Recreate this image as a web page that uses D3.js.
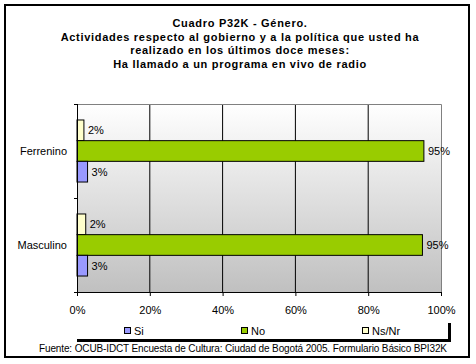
<!DOCTYPE html>
<html><head><meta charset="utf-8">
<script src="https://cdn.jsdelivr.net/npm/d3@7"></script>
<style>body{margin:0;background:#fff}svg{display:block;font-family:"Liberation Sans",Arial,sans-serif}</style>
</head><body><svg id="c" width="476" height="364"></svg>
<script>
const titleLines = ["Cuadro P32K - Género.","Actividades respecto al gobierno y a la política que usted ha","realizado en los últimos doce meses:","Ha llamado a un programa en vivo de radio"];
const categories = ["Ferrenino","Masculino"];
const seriesNames = ["Ns/Nr","No","Si"];
const legendOrder = ["Si","No","Ns/Nr"];
const siValues = [2.9, 2.9];
const noValues = [95.3, 94.9];
const nsValues = [1.9, 2.4];
const xTicks = [0,20,40,60,80,100];
const colors = {"Si":"#9999ff","No":"#99cc00","Ns/Nr":"#ffffcc"};
const source = "Fuente: OCUB-IDCT Encuesta de Cultura: Ciudad de Bogotá 2005. Formulario Básico BPI32K";

const valuesBy = {"Si":siValues,"No":noValues,"Ns/Nr":nsValues};
const svg = d3.select("#c");
const L=77,R=441,T=104,B=292;

// outer border
svg.append("rect").attr("x",5).attr("y",5).attr("width",464).attr("height",352)
  .attr("fill","#fff").attr("stroke","#000").attr("stroke-width",2);

// title
svg.append("g").selectAll("text").data(titleLines).join("text")
  .attr("x",240).attr("y",(d,i)=>27+i*13.7).attr("text-anchor","middle")
  .attr("font-size",11).attr("font-weight","bold").attr("letter-spacing",0.7).text(d=>d);

// gradient
const defs=svg.append("defs");
const gr=defs.append("linearGradient").attr("id","bg").attr("x1",0).attr("y1",0).attr("x2",0).attr("y2",1);
gr.append("stop").attr("offset","0%").attr("stop-color","#ffffff");
gr.append("stop").attr("offset","100%").attr("stop-color","#c0c0c0");

const x=d3.scaleLinear().domain([0,100]).range([L,R]);
const y0=d3.scaleBand().domain(categories).range([T,B]).paddingInner(0.34).paddingOuter(0.17);
const y1=d3.scaleBand().domain(seriesNames).range([0,y0.bandwidth()]);

svg.append("rect").attr("x",L).attr("y",T).attr("width",R-L).attr("height",B-T).attr("fill","url(#bg)");
// gridlines
svg.append("g").selectAll("line").data(xTicks.filter(t=>t>0&&t<100)).join("line")
  .attr("x1",d=>x(d)).attr("x2",d=>x(d)).attr("y1",T).attr("y2",B).attr("stroke","#000");
// plot border top/right gray
svg.append("path").attr("d",`M${L},${T+0.5}H${R+0.5}V${B}`).attr("fill","none").attr("stroke","#808080");

// bars
const g=svg.append("g");
categories.forEach((c,ci)=>{
  seriesNames.forEach(s=>{
    const v=valuesBy[s][ci];
    const yy=y0(c)+y1(s);
    g.append("rect").attr("x",x(0)).attr("y",yy).attr("width",x(v)-x(0)).attr("height",y1.bandwidth())
      .attr("fill",colors[s]).attr("stroke","#000").attr("stroke-width",1);
    g.append("text").attr("x",x(v)+4).attr("y",yy+y1.bandwidth()/2).attr("dy","0.35em")
      .attr("font-size",11).text(Math.round(v)+"%");
  });
});

// axes
const xa=svg.append("g").attr("transform",`translate(0,${B})`)
  .call(d3.axisBottom(x).tickValues(xTicks).tickFormat(d=>d+"%").tickSize(4).tickPadding(10));
xa.select(".domain").attr("stroke","#000").attr("d",`M${L},0.5H${R}`);
xa.selectAll("text").attr("font-size",11).attr("font-family","Liberation Sans, Arial, sans-serif").attr("fill","#000");
const ya=svg.append("g").attr("transform",`translate(${L},0)`)
  .call(d3.axisLeft(y0).tickSize(0).tickPadding(10));
ya.select(".domain").remove();
ya.selectAll("text").attr("font-size",11).attr("font-family","Liberation Sans, Arial, sans-serif").attr("fill","#000");
svg.append("line").attr("x1",L+0.5).attr("x2",L+0.5).attr("y1",T).attr("y2",B).attr("stroke","#000");
svg.append("g").selectAll("line").data([T,(T+B)/2,B]).join("line")
  .attr("x1",L-3).attr("x2",L).attr("y1",d=>d+0.5).attr("y2",d=>d+0.5).attr("stroke","#000");

// legend
svg.append("path").attr("d","M77,340.5H449.5V323").attr("fill","none").attr("stroke","#000").attr("stroke-width",3);
const lx={"Si":124,"No":241,"Ns/Nr":362};
const lg=svg.append("g").selectAll("g").data(legendOrder).join("g").attr("transform",d=>`translate(${lx[d]},327)`);
lg.append("rect").attr("x",0.5).attr("y",0.5).attr("width",6).attr("height",6).attr("fill",d=>colors[d]).attr("stroke","#000");
lg.append("text").attr("x",10).attr("y",4).attr("dy","0.35em").attr("font-size",11).text(d=>d);

svg.append("text").attr("x",39).attr("y",352).attr("font-size",10).attr("textLength",408).text(source);
</script></body></html>
